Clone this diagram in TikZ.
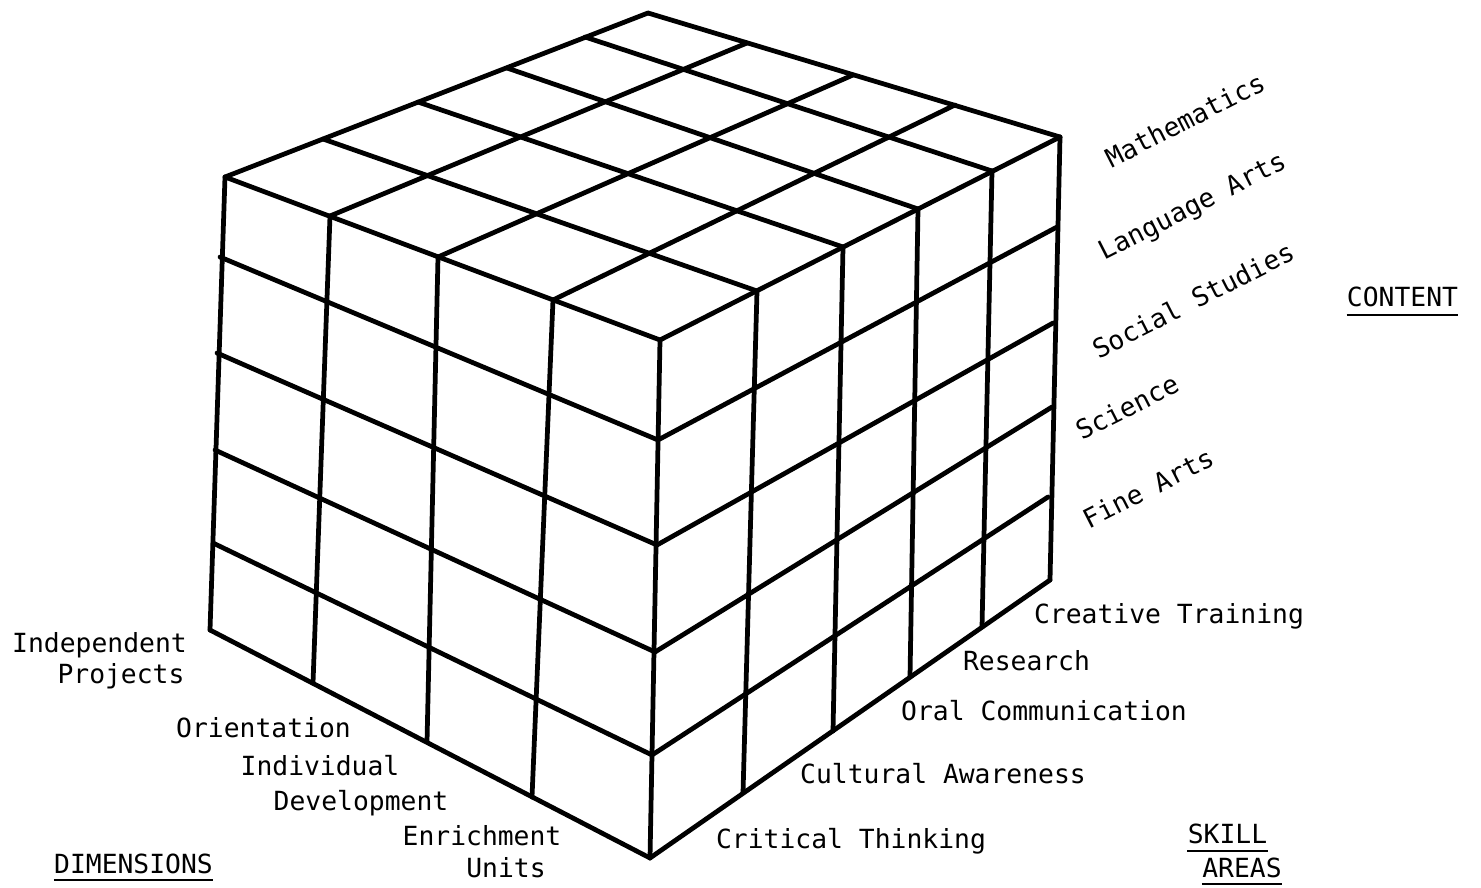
\documentclass[tikz,border=0pt]{standalone}
\usepackage{fontspec}
\usepackage{tikz}
\usetikzlibrary{calc,backgrounds}
\newfontfamily\typer{DejaVu Sans Mono}
\pgfdeclarelayer{edgelayer}
\pgfdeclarelayer{nodelayer}
\pgfsetlayers{background,edgelayer,nodelayer,main}
\tikzstyle{none}=[inner sep=0mm]
\tikzstyle{cubeedge}=[line width=2.7pt,line join=round,line cap=round]
\tikzstyle{lbl}=[inner sep=0mm,anchor=base,font=\typer\fontsize{15}{18}\selectfont]
\tikzstyle{tilted}=[lbl,anchor=center,rotate=27]
\tikzstyle{uline}=[line width=1.4pt]

\begin{document}
\begin{tikzpicture}
	\useasboundingbox (0, 0) rectangle (29.62, -17.76);
	\begin{pgfonlayer}{nodelayer}
		% left edge
		\node [style=none] (0) at (4.50, -3.54) {};
		\node [style=none] (1) at (4.40, -5.14) {};
		\node [style=none] (2) at (4.34, -7.06) {};
		\node [style=none] (3) at (4.30, -9.00) {};
		\node [style=none] (4) at (4.26, -10.86) {};
		\node [style=none] (5) at (4.20, -12.60) {};
		% front edge
		\node [style=none] (6) at (13.20, -6.80) {};
		\node [style=none] (7) at (13.16, -8.80) {};
		\node [style=none] (8) at (13.14, -10.90) {};
		\node [style=none] (9) at (13.10, -13.04) {};
		\node [style=none] (10) at (13.04, -15.10) {};
		\node [style=none] (11) at (13.00, -17.16) {};
		\node [style=none] (12) at (6.60, -4.32) {};
		\node [style=none] (13) at (8.76, -5.14) {};
		\node [style=none] (14) at (11.06, -6.00) {};
		\node [style=none] (15) at (6.26, -13.66) {};
		\node [style=none] (16) at (8.54, -14.84) {};
		\node [style=none] (17) at (10.64, -15.94) {};
		% right edge
		\node [style=none] (18) at (21.20, -2.74) {};
		\node [style=none] (19) at (21.14, -4.54) {};
		\node [style=none] (20) at (21.06, -6.46) {};
		\node [style=none] (21) at (21.04, -8.14) {};
		\node [style=none] (22) at (20.96, -9.94) {};
		\node [style=none] (23) at (21.00, -11.60) {};
		\node [style=none] (24) at (15.14, -5.82) {};
		\node [style=none] (25) at (16.86, -4.94) {};
		\node [style=none] (26) at (18.36, -4.18) {};
		\node [style=none] (27) at (19.84, -3.42) {};
		\node [style=none] (28) at (14.86, -15.86) {};
		\node [style=none] (29) at (16.66, -14.62) {};
		\node [style=none] (30) at (18.20, -13.54) {};
		\node [style=none] (31) at (19.64, -12.54) {};
		% back of the top
		\node [style=none] (32) at (12.96, -0.26) {};
		\node [style=none] (33) at (14.94, -0.86) {};
		\node [style=none] (34) at (17.06, -1.50) {};
		\node [style=none] (35) at (19.10, -2.10) {};
		\node [style=none] (36) at (6.46, -2.78) {};
		\node [style=none] (37) at (8.36, -2.04) {};
		\node [style=none] (38) at (10.14, -1.36) {};
		\node [style=none] (39) at (11.70, -0.74) {};

		\node [style=tilted] (40) at (23.70, -2.40) {Mathematics};
		\node [style=tilted] (41) at (23.86, -4.16) {Language Arts};
		\node [style=tilted] (42) at (23.86, -6.00) {Social Studies};
		\node [style=tilted] (43) at (22.54, -8.14) {Science};
		\node [style=tilted] (44) at (22.96, -9.76) {Fine Arts};
		\node [style=lbl] (45) at (28.05, -6.14) {CONTENT};

		\node [style=lbl] (46) at (23.38, -12.46) {Creative Training};
		\node [style=lbl] (47) at (20.53, -13.40) {Research};
		\node [style=lbl] (48) at (20.88, -14.40) {Oral Communication};
		\node [style=lbl] (49) at (18.86, -15.66) {Cultural Awareness};
		\node [style=lbl] (50) at (17.02, -16.96) {Critical Thinking};
		\node [style=lbl] (51) at (24.55, -16.86) {SKILL};
		\node [style=lbl] (52) at (24.84, -17.54) {AREAS};

		\node [style=lbl] (53) at (1.99, -13.04) {Independent};
		\node [style=lbl] (54) at (2.42, -13.66) {Projects};
		\node [style=lbl] (55) at (5.27, -14.74) {Orientation};
		\node [style=lbl] (56) at (6.40, -15.50) {Individual};
		\node [style=lbl] (57) at (7.22, -16.20) {Development};
		\node [style=lbl] (58) at (9.64, -16.90) {Enrichment};
		\node [style=lbl] (59) at (10.12, -17.54) {Units};
		\node [style=lbl] (60) at (2.67, -17.46) {DIMENSIONS};
	\end{pgfonlayer}
	\begin{pgfonlayer}{edgelayer}
		% left face
		\draw [style=cubeedge] (0.center) to (6.center);
		\draw [style=cubeedge] (1.center) to (7.center);
		\draw [style=cubeedge] (2.center) to (8.center);
		\draw [style=cubeedge] (3.center) to (9.center);
		\draw [style=cubeedge] (4.center) to (10.center);
		\draw [style=cubeedge] (5.center) to (11.center);
		\draw [style=cubeedge] (0.center) to (5.center);
		\draw [style=cubeedge] (12.center) to (15.center);
		\draw [style=cubeedge] (13.center) to (16.center);
		\draw [style=cubeedge] (14.center) to (17.center);
		\draw [style=cubeedge] (6.center) to (11.center);
		% right face
		\draw [style=cubeedge] (6.center) to (18.center);
		\draw [style=cubeedge] (7.center) to (19.center);
		\draw [style=cubeedge] (8.center) to (20.center);
		\draw [style=cubeedge] (9.center) to (21.center);
		\draw [style=cubeedge] (10.center) to (22.center);
		\draw [style=cubeedge] (11.center) to (23.center);
		\draw [style=cubeedge] (24.center) to (28.center);
		\draw [style=cubeedge] (25.center) to (29.center);
		\draw [style=cubeedge] (26.center) to (30.center);
		\draw [style=cubeedge] (27.center) to (31.center);
		\draw [style=cubeedge] (18.center) to (23.center);
		% top
		\draw [style=cubeedge] (0.center) to (32.center);
		\draw [style=cubeedge] (12.center) to (33.center);
		\draw [style=cubeedge] (13.center) to (34.center);
		\draw [style=cubeedge] (14.center) to (35.center);
		\draw [style=cubeedge] (24.center) to (36.center);
		\draw [style=cubeedge] (25.center) to (37.center);
		\draw [style=cubeedge] (26.center) to (38.center);
		\draw [style=cubeedge] (27.center) to (39.center);
		\draw [style=cubeedge] (18.center) to (32.center);
		% underlines
		\draw [style=uline] ($(45.base west)+(0,-0.16)$) to ($(45.base east)+(0,-0.16)$);
		\draw [style=uline] ($(51.base west)+(0,-0.16)$) to ($(51.base east)+(0,-0.16)$);
		\draw [style=uline] ($(52.base west)+(0,-0.14)$) to ($(52.base east)+(0,-0.14)$);
		\draw [style=uline] ($(60.base west)+(0,-0.14)$) to ($(60.base east)+(0,-0.14)$);
	\end{pgfonlayer}
\end{tikzpicture}
\end{document}
